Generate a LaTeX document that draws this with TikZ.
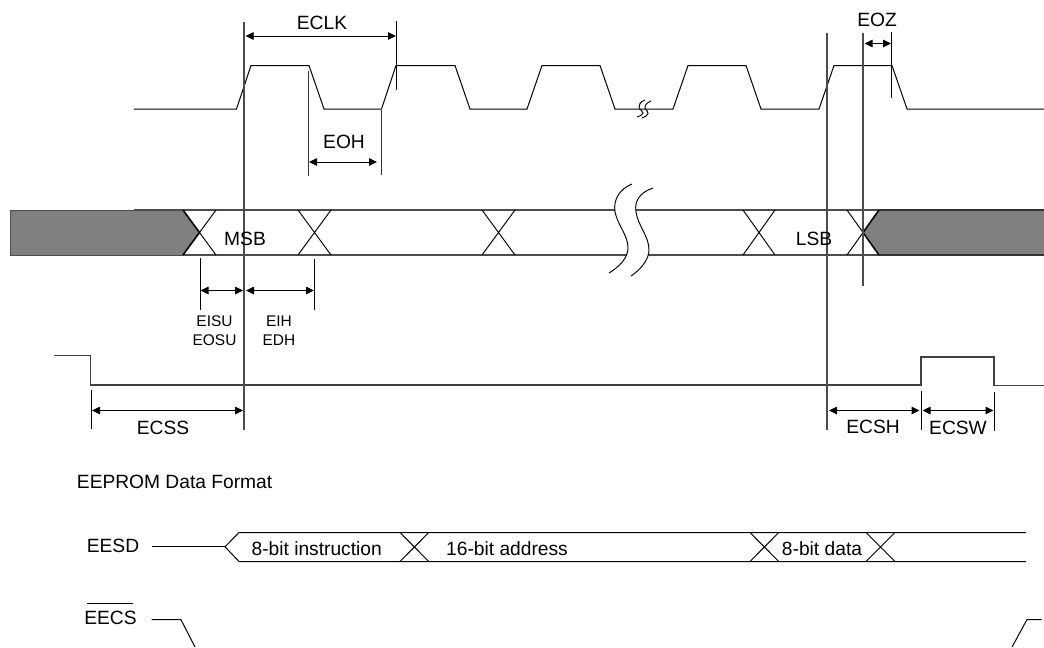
\documentclass[tikz,border=0pt]{standalone}
\usepackage{fontspec}
\setmainfont{Liberation Sans}
\usetikzlibrary{arrows.meta}
\definecolor{vline}{gray}{0.3}
\definecolor{bus}{gray}{0.5}
\tikzset{
  x=0.75pt,y=-0.75pt,
  wave/.style={line width=0.75pt,black,line join=miter},
  guide/.style={line width=0.95pt,vline},
  tick/.style={line width=0.72pt,black},
  busline/.style={line width=0.8pt,black!70},
  meas/.style={line width=0.75pt,black,{Triangle[length=6pt,width=5.6pt]}-{Triangle[length=6pt,width=5.6pt]}},
  lab/.style={anchor=base,inner sep=0pt,font=\fontsize{14.4}{16}\selectfont},
  small/.style={anchor=base,inner sep=0pt,font=\fontsize{11.6}{13}\selectfont},
  hatch/.style={line width=0.72pt,black}
}
\begin{document}
\begin{tikzpicture}
\useasboundingbox (0,0) rectangle (1044,647);
% clock
\draw[wave] (134,109)--(236.5,109)--(251,65.5)--(309,65.5)--(324,109)--(381.5,109)--(396,65.5)--(455,65.5)--(470,109)--(527,109)--(542,65.5)--(600,65.5)--(615,109)--(673,109)--(688,65.5)--(746,65.5)--(761,109)--(819,109)--(834,65.5)--(892,65.5)--(907,109)--(1044,109);
\draw[hatch] (645,100) .. controls (640,102) and (638.5,105) .. (639,108) .. controls (640,110.5) and (643.5,111) .. (643,113) .. controls (642.5,115) and (640,116) .. (637,117);
\draw[hatch] (651,101) .. controls (646,103) and (644.5,106) .. (645,108.5) .. controls (646,111) and (649,111.5) .. (648,113.5) .. controls (647.5,115.5) and (645,117) .. (642,118);
% bus
\draw[busline] (134,210)--(615,210) (636,210)--(879,210);
\draw[busline] (134,255)--(627,255) (648,255)--(879,255);
\fill[bus] (10,210)--(183,210)--(199.5,232.5)--(183,255)--(10,255)--cycle;
\draw[line width=0.6pt,black!70] (183,210)--(10,210)--(10,255)--(183,255);
\draw[line width=1.1pt,black] (183,210)--(199.5,232.5)--(183,255);
\fill[bus] (879,210)--(863,232.5)--(879,255)--(1044,255)--(1044,210)--cycle;
\draw[line width=0.8pt,black!80] (1044,210)--(879,210) (879,255)--(1044,255);
\draw[line width=1.1pt,black] (879,210)--(863,232.5)--(879,255);
\foreach \xa/\xb in {183/216,298/331,482/515,743/775,847/879}{
  \draw[hatch] (\xa,210)--(\xb,255) (\xb,210)--(\xa,255);
}
% bus break
\draw[hatch] (632,184) .. controls (620,189) and (613,199) .. (615,212) .. controls (618,226) and (628,235) .. (628,248) .. controls (628,258) and (619,267) .. (609,273);
\draw[hatch] (653,188) .. controls (641,192) and (634,200) .. (636,212) .. controls (638,226) and (649,236) .. (649,250) .. controls (649,260) and (640,270) .. (631,276);
% chip select
\draw[wave,black!75,line width=0.95pt] (54,355.7)--(90.5,355.7)--(90.5,385)--(921,385)--(921,357)--(994,357)--(994,385.7)--(1044,385.7);
% guides
\draw[guide] (244,22)--(244,430);
\draw[guide] (827,33)--(827,430);
\draw[guide] (863,33)--(863,286);
\draw[tick] (396.5,21)--(396.5,90);
\draw[tick,black!80] (308.5,71)--(308.5,176);
\draw[tick,black!80] (381.5,110)--(381.5,175);
\draw[tick] (891.5,32)--(891.5,98);
\draw[tick] (200.5,258)--(200.5,310);
\draw[tick] (314.5,259)--(314.5,310);
\draw[tick] (91.5,390)--(91.5,429);
\draw[tick] (921.5,391)--(921.5,430);
\draw[tick] (994.5,392)--(994.5,431);
% dimensions
\draw[meas] (245.5,36)--(396,36);
\draw[meas] (309,162)--(377,162);
\draw[meas] (864.5,43.5)--(891,43.5);
\draw[meas] (200.5,290.5)--(243,290.5);
\draw[meas] (246,290.5)--(314,290.5);
\draw[meas] (92,410.5)--(243,410.5);
\draw[meas] (829,410.5)--(919.5,410.5);
\draw[meas] (922.5,410.5)--(993.5,410.5);
% labels
\node[lab] (eclk) at (322,29.3) {ECLK};
\node[lab] (eoh) at (344,148) {EOH};
\node[lab] (eoz) at (877,26) {EOZ};
\node[lab] (msb) at (245,245) {MSB};
\node[lab] (lsb) at (814,245) {LSB};
\node[small] (eisu) at (214.5,326) {EISU};
\node[small] (eosu) at (214.5,345) {EOSU};
\node[small] (eih) at (279,326) {EIH};
\node[small] (edh) at (279,345) {EDH};
\node[lab] (ecss) at (163,434) {ECSS};
\node[lab] (ecsh) at (873,433) {ECSH};
\node[lab] (ecsw) at (958,434) {ECSW};
\node[lab,anchor=base west] (fmt) at (76.7,488) {EEPROM Data Format};
% format rows
\node[lab] (eesd) at (113,552.7) {EESD};
\node[lab] (eecs) at (110.5,624) {EECS};
\draw[line width=0.7pt,black] (87,603.5)--(133,603.5);
\draw[line width=1pt,black] (151.5,546.8)--(225,546.8);
\draw[wave] (1026,532.5)--(239,532.5)--(225,546.8)--(239,561.5)--(1026,561.5);
\foreach \xa/\xb in {400/428.7,750/778.7,866/895}{
  \draw[wave] (\xa,532.5)--(\xb,561.5) (\xb,532.5)--(\xa,561.5);
}
\node[lab] (ins) at (316.7,555) {8-bit instruction};
\node[lab] (adr) at (507,555) {16-bit address};
\node[lab] (dat) at (822,555) {8-bit data};
\draw[wave] (151.5,619.7)--(181,619.7)--(195,647);
\draw[wave] (1012,647)--(1027,619.5)--(1041.5,619.5);
\end{tikzpicture}
\end{document}
